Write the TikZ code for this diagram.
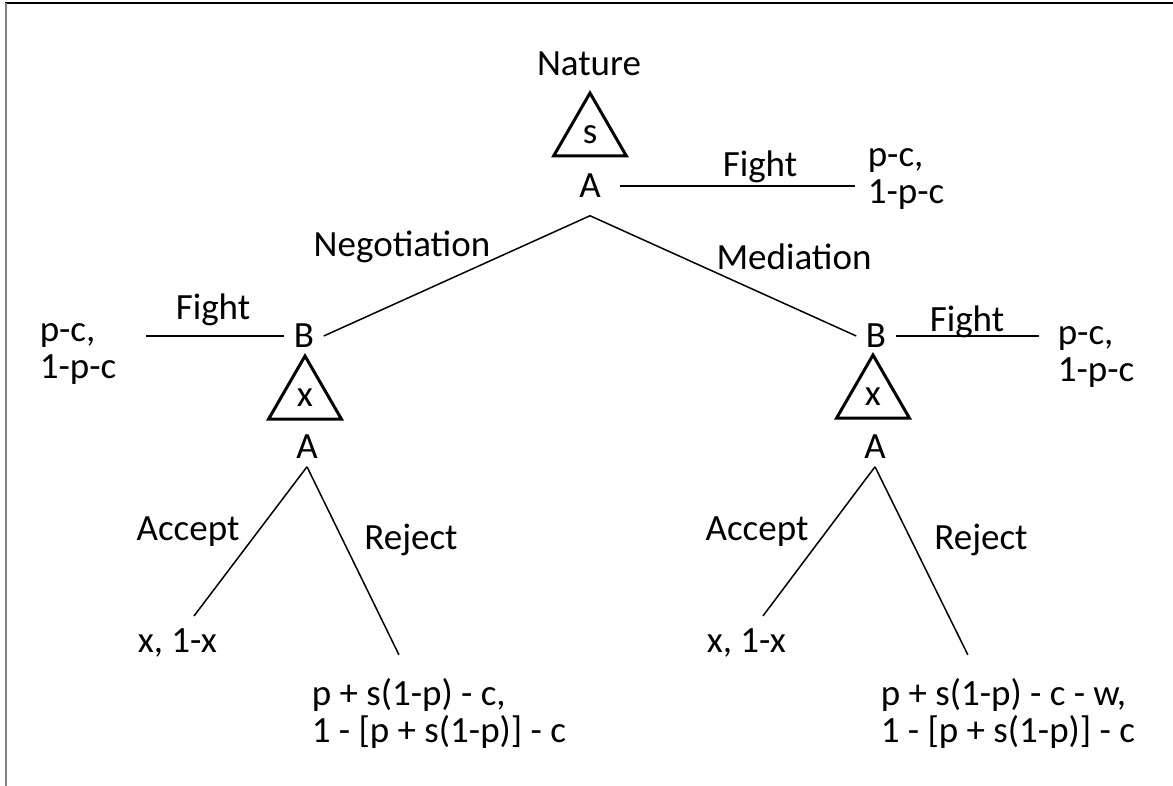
\documentclass[tikz,border=0pt]{standalone}
\usepackage{fontspec}
\setmainfont{Carlito}
\usetikzlibrary{shapes.geometric,positioning}

\begin{document}
\begin{tikzpicture}[x=1pt, y=-1pt, line width=1.5pt,
  every node/.style={font=\fontsize{37}{37}\selectfont},
  mover/.style={circle, inner sep=0pt, minimum size=38pt},
  chance/.style={regular polygon, regular polygon sides=3, draw, line width=3pt, minimum size=84pt, inner sep=0pt},
  pay/.style={align=left, anchor=west, inner sep=0pt}]
  \useasboundingbox (0,0) rectangle (1173,786);
  \draw[line width=1.5pt] (5,3) -- (1173,3);
  \draw[gray, line width=2pt] (5.5,3) -- (5.5,786);

  % nature and the first move
  \node (nature) at (589,64) {Nature};
  \node[chance] (ts) at (590,135) {s};
  \node[mover, minimum size=58pt] (a0) at (590,186) {A};
  \node[pay] (payT) at (867,179) {p-c,\\1-p-c};
  \node (fT) at (760,167) {Fight};
  \draw[shorten >=12pt] (a0.east) -- (a0.east -| payT.west);

  \node (neg) at (402,247) {Negotiation};
  \node (med) at (794,257) {Mediation};

  % negotiation branch
  \node[mover] (bl) at (304,336) {B};
  \node[pay] (payL) at (39,354) {p-c,\\1-p-c};
  \node (fL) at (213,310) {Fight};
  \draw (a0.south) -- (bl.east);
  \draw[shorten >=29pt] (bl.west) -- (bl.west -| payL.east);
  \node[chance] (xl) at (305,398) {x};
  \node[mover] (al) at (307,447) {A};
  \node (accL) at (188,532) {Accept};
  \node (rejL) at (411,540) {Reject};
  \node[pay] (payLA) at (137,643) {x, 1-x};
  \node[pay] (payLR) at (311,713) {p + s(1-p) - c,\\1 - [p + s(1-p)] - c};
  \draw[shorten >=15pt] (al.south) -- (payLA.63);
  \draw[shorten >=25pt] (al.south) -- (payLR.129);

  % mediation branch
  \node[mover] (br) at (876,336) {B};
  \node[pay] (payR) at (1057,357) {p-c,\\1-p-c};
  \node (fR) at (967,322) {Fight};
  \draw (a0.south) -- (br.west);
  \draw[shorten >=18pt] (br.east) -- (br.east -| payR.west);
  \node[chance] (xr) at (873,397) {x};
  \node[mover] (ar) at (875,447) {A};
  \node (accR) at (757,532) {Accept};
  \node (rejR) at (981,540) {Reject};
  \node[pay] (payRA) at (706,643) {x, 1-x};
  \node[pay] (payRR) at (880,713) {p + s(1-p) - c - w,\\1 - [p + s(1-p)] - c};
  \draw[shorten >=15pt] (ar.south) -- (payRA.63);
  \draw[shorten >=25pt] (ar.south) -- (payRR.129);
\end{tikzpicture}
\end{document}
